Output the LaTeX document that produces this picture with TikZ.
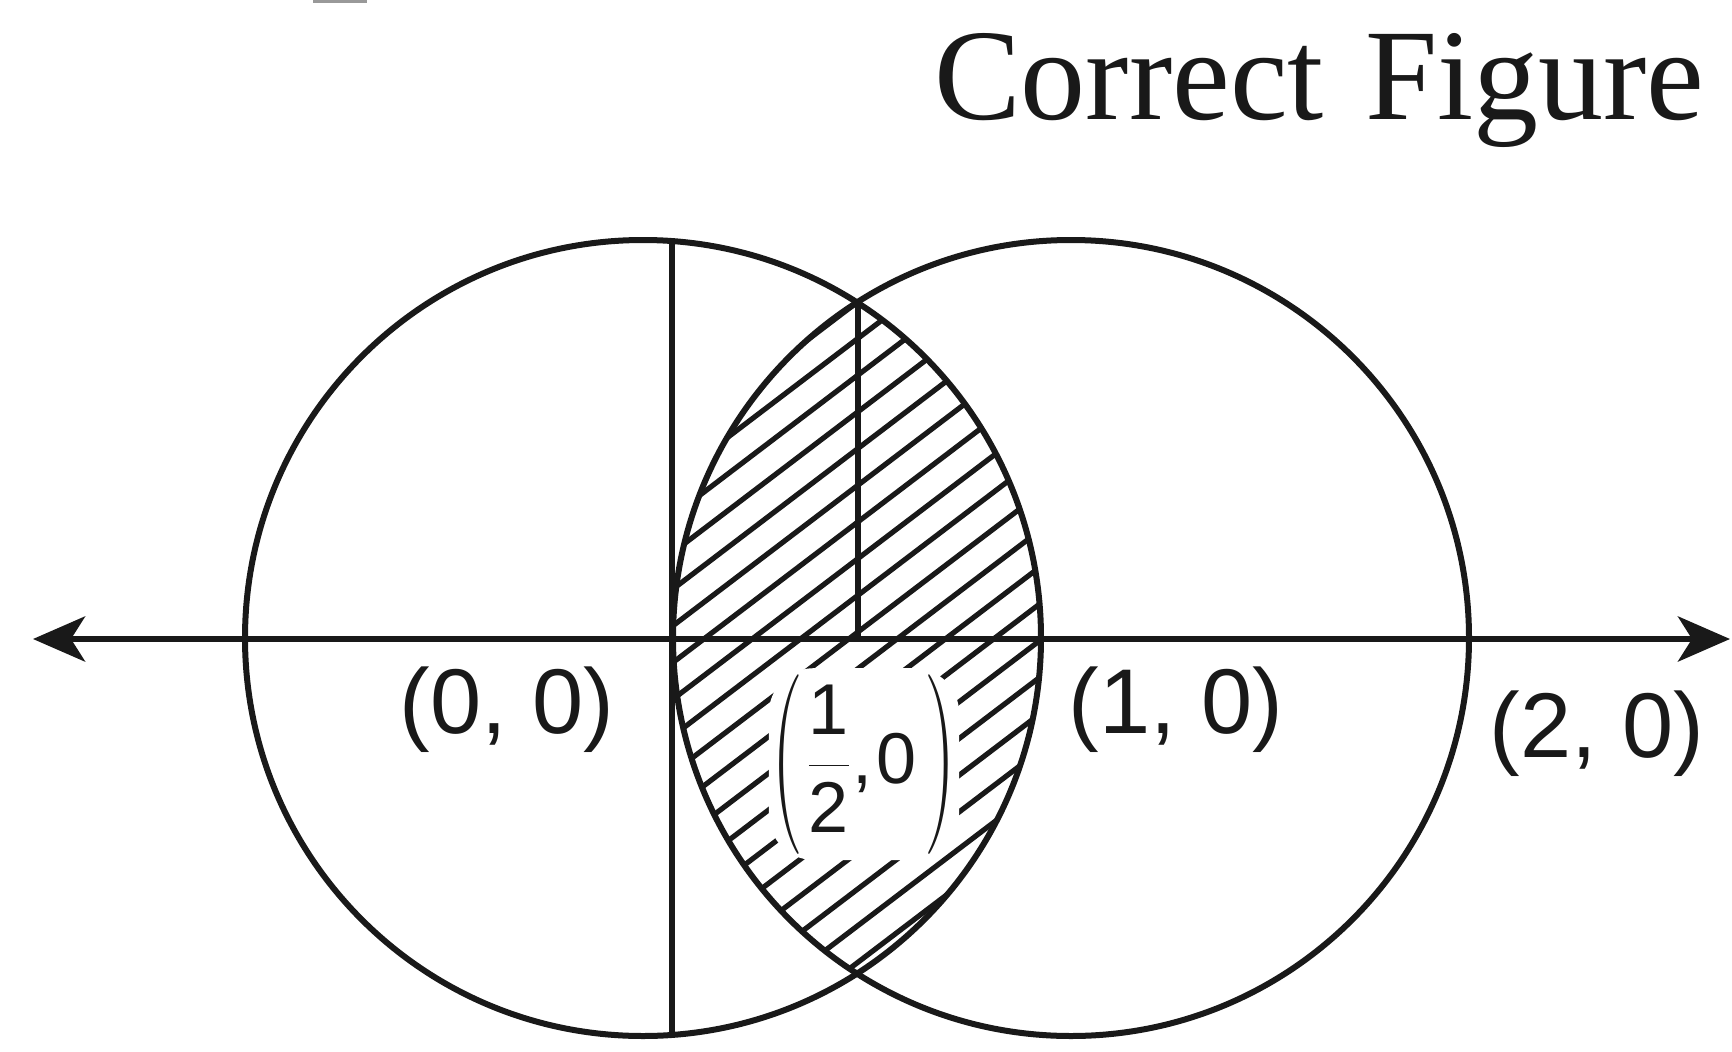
\RequirePackage{fix-cm}
\documentclass[tikz,border=0pt]{standalone}
\usepackage{graphicx}
\usepackage{fontspec}
\newfontfamily\serifT{Liberation Serif}
\newfontfamily\sansL{Liberation Sans}
\newcommand\bigparen[1]{\lower26pt\hbox{\scalebox{0.5}[1]{\fontsize{180}{182}\selectfont #1}}}
\usetikzlibrary{arrows.meta}
\tikzset{
  curve/.style={line width=6pt, black!90},
  hatchline/.style={line width=5.2pt, black!90},
  stroke/.style={line width=6pt, black!90},
  axisline/.style={line width=6.5pt, black!90, {Stealth[length=52pt,width=45pt,inset=14pt]}-{Stealth[length=52pt,width=45pt,inset=14pt]}},
  ptlabel/.style={font=\sansL\fontsize{92}{100}\selectfont, anchor=base, inner sep=0pt, text=black!90},
  titlelabel/.style={font=\serifT\fontsize{130}{140}\selectfont, anchor=base west, inner sep=0pt, text=black!90},
  fraclabel/.style={font=\fontsize{72}{80}\selectfont, anchor=base, fill=white, rounded corners=45pt, inner xsep=3pt, inner ysep=6pt, text=black!90}
}
\begin{document}
\begin{tikzpicture}[x=1pt,y=1pt]
\useasboundingbox (0,0) rectangle (1732,-1052);
% small cut-off mark at the top edge
\fill[gray!80] (313,0) rectangle (367,-3);
% centres and key points
\coordinate (cl) at (643,-638);
\coordinate (cr) at (1071,-638);
\coordinate (vtop) at (672,-238);
\coordinate (vbot) at (672,-1034);
\coordinate (itop) at (858,-303);
\coordinate (ibase) at (858,-639);
\coordinate (axL) at (33,-639);
\coordinate (axR) at (1730,-639);
% hatching of the common region
\begin{scope}
  \clip (cl) circle (398);
  \clip (cr) circle (398);
  \foreach \k in {-15,...,15} {
    \pgfmathsetmacro\cc{1284+36.7*\k}
    \draw[hatchline] (620,{-(\cc-0.76*620)}) -- (1100,{-(\cc-0.76*1100)});
  }
\end{scope}
% label with cleared background
\node[fraclabel] (half) at (864,-783)
  {\bigparen{(}\kern4pt$\displaystyle\frac{\hbox{\sansL 1}}{\hbox{\sansL 2}}$\kern2pt{\sansL ,\kern4pt0}\kern8pt\bigparen{)}};
% circles
\draw[curve] (cl) circle (398);
\draw[curve] (cr) circle (398);
% vertical lines
\draw[stroke] (vtop) -- (vbot);
\draw[stroke] (itop) -- (ibase);
% x-axis
\draw[axisline] (axL) -- (axR);
% labels
\node[ptlabel] (p0) at (507,-733) {(0, 0)};
\node[ptlabel] (p1) at (1176,-733) {(1, 0)};
\node[ptlabel] (p2) at (1597,-757) {(2, 0)};
\node[titlelabel] (title) at (934,-119) {Correct\hspace{41pt}Figure};
\end{tikzpicture}
\end{document}
